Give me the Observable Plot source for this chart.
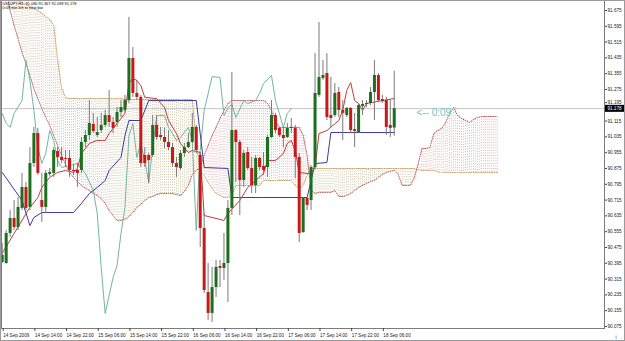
<!DOCTYPE html>
<html><head><meta charset="utf-8">
<script src="https://cdn.jsdelivr.net/npm/d3@7"></script>
<script src="https://cdn.jsdelivr.net/npm/@observablehq/plot@0.6"></script>
<style>
html,body{margin:0;padding:0;background:#fff;}
#chart svg{display:block;font-family:"Liberation Sans",Arial,sans-serif;}
</style></head><body><div id="chart"></div>
<script>
// ---- title / annotations ----
const titleLines = ["USDJPY,H1  91.080 91.367 91.039 91.178", "0:09 min left to next bar"];
const timerLabel = "<-- 0:09";
// ---- time axis labels (every 8 bars) ----
const timeTickBars = [0, 8, 16, 24, 32, 40, 48, 56, 64, 72, 80, 88, 96];
const timeTickLabels = ["14 Sep 2009", "14 Sep 14:00", "14 Sep 22:00", "15 Sep 06:00", "15 Sep 14:00", "15 Sep 22:00",
  "16 Sep 06:00", "16 Sep 14:00", "16 Sep 22:00", "17 Sep 06:00", "17 Sep 14:00", "17 Sep 22:00", "18 Sep 06:00"];
// ---- price axis labels ----
const priceTicks = [91.675, 91.595, 91.515, 91.435, 91.355, 91.275, 91.195, 91.115, 91.035, 90.955, 90.875,
  90.795, 90.715, 90.635, 90.555, 90.475, 90.395, 90.315, 90.235, 90.155, 90.075];

// ---- H1 candles (bar 0 = 14 Sep 06:00) ----
const open = [90.400,90.394,90.546,90.622,90.576,90.673,90.779,90.678,90.900,91.052,
90.713,90.678,90.845,90.850,90.961,90.931,90.926,90.926,90.865,90.865,
90.865,91.007,91.042,91.098,91.042,91.067,91.093,91.143,91.108,91.108,
91.159,91.169,91.219,91.432,91.255,91.235,90.941,90.941,90.941,91.093,
91.042,91.032,91.007,90.981,90.900,90.875,90.951,90.981,91.007,91.083,
90.941,90.571,90.247,90.141,90.272,90.379,90.369,90.394,90.673,91.067,
91.007,90.814,90.956,90.875,90.789,90.926,90.885,90.880,91.032,91.143,
91.078,91.042,91.032,91.078,91.078,90.931,90.551,90.723,90.713,90.880,
91.245,91.331,91.356,91.143,91.143,91.260,91.169,91.143,91.179,91.072,
91.057,91.189,91.199,91.204,91.260,91.346,91.224,91.219,91.093,91.080];
const high = [90.495,90.561,90.662,90.713,90.728,90.850,90.804,90.981,91.083,91.078,
90.850,90.865,90.875,90.981,90.981,90.981,90.966,90.966,90.890,90.900,
91.032,91.067,91.219,91.154,91.133,91.154,91.169,91.270,91.133,91.184,
91.219,91.245,91.640,91.488,91.321,91.245,90.981,90.951,91.143,91.143,
91.083,91.078,91.067,91.002,90.931,90.966,91.002,91.052,91.154,91.093,
90.956,90.647,90.394,90.374,90.409,90.409,90.546,90.713,91.361,91.072,
91.017,90.966,90.981,90.931,90.941,90.931,90.956,91.042,91.219,91.154,
91.083,91.083,91.103,91.128,91.093,90.951,90.728,90.728,90.890,91.457,
91.614,91.422,91.457,91.336,91.305,91.285,91.219,91.184,91.184,91.154,
91.204,91.219,91.219,91.285,91.422,91.356,91.245,91.235,91.219,91.367];
const low = [90.394,90.390,90.526,90.561,90.561,90.662,90.662,90.662,90.880,90.840,
90.602,90.647,90.835,90.830,90.880,90.900,90.880,90.830,90.840,90.779,
90.850,90.981,91.017,91.052,91.032,91.052,91.083,91.083,91.052,91.083,
91.133,91.159,91.204,91.235,91.219,90.880,90.880,90.799,90.931,91.017,
91.017,90.976,90.966,90.880,90.830,90.865,90.931,90.976,91.002,90.951,
90.475,90.242,90.105,90.095,90.222,90.272,90.308,90.197,90.637,90.804,
90.637,90.779,90.865,90.748,90.748,90.865,90.840,90.830,91.027,91.052,
91.032,90.981,91.027,91.052,90.824,90.500,90.546,90.662,90.662,90.875,
91.235,91.321,91.118,91.083,91.133,91.133,91.017,91.133,91.052,90.981,
91.052,91.143,91.184,91.194,91.118,91.209,91.204,91.042,91.032,91.039];
const close = [90.435,90.546,90.622,90.576,90.678,90.779,90.673,90.900,91.052,90.850,
90.678,90.850,90.855,90.966,90.931,90.915,90.921,90.865,90.860,90.850,
91.007,91.042,91.103,91.062,91.057,91.093,91.143,91.108,91.078,91.159,
91.184,91.219,91.432,91.255,91.235,90.900,90.900,90.915,91.093,91.032,
91.032,91.007,90.981,90.900,90.880,90.951,90.981,91.007,91.083,90.966,
90.571,90.257,90.141,90.272,90.374,90.369,90.394,90.673,91.067,91.007,
90.814,90.951,90.875,90.789,90.926,90.880,90.865,91.032,91.143,91.067,
91.042,91.027,91.078,91.083,90.931,90.546,90.723,90.688,90.880,91.255,
91.336,91.346,91.133,91.128,91.255,91.169,91.154,91.179,91.067,91.062,
91.194,91.199,91.204,91.260,91.346,91.219,91.214,91.083,91.078,91.178];

// ---- Tenkan-sen (bar, value) ----
const tenkanBar = [0,3,5,6,7,9,10,12,14,16,18,19,20,22,24,26,27,29,30,31,32,33,34,35,36,39,41,42,44,45,47,48,50,51,56,57,60,62,64,66,67,69,71,72,73,74,75,77,78,79,80,82,85,86,87,88,89,90,91,92,96,99];
const tenkanVal = [90.445,90.546,90.612,90.647,90.678,90.728,90.779,90.830,90.855,90.865,90.855,90.875,90.951,91.002,91.017,91.017,91.052,91.103,91.128,91.154,91.305,91.331,91.321,91.295,91.235,91.229,91.184,91.118,91.052,91.002,90.956,90.966,90.956,90.637,90.612,90.647,90.713,90.779,90.814,90.850,90.915,90.915,90.951,91.002,91.017,90.966,90.855,90.850,90.850,90.880,91.052,91.067,91.118,91.169,91.270,91.310,91.219,91.204,91.169,91.204,91.219,91.229];
// ---- Kijun-sen ----
const kijunBar = [0,5,7,8,10,18,20,22,24,26,27,30,31,32,35,37,49,50,51,57,58,77,79,82,83,99];
const kijunVal = [90.855,90.713,90.586,90.627,90.652,90.652,90.698,90.748,90.779,90.814,90.865,90.931,91.042,91.118,91.118,91.219,91.219,91.052,90.880,90.875,90.728,90.728,90.900,90.905,91.057,91.057];
// ---- Chikou span (drawn 26 bars back) ----
const chikouBar = [0,1,2,3,5,6,7,8,9,10,11,12,13,14,15,17,19,21,23,24,25,26,28,29,30,31,32,33,34,35,36,37,38,39,41,42,43,44,45,47,48,49,50,51,53,55,56,57,58,59,61,62,64,65,66,68,69,70,71,72,73];
const chikouVal = [91.154,91.103,91.083,91.154,91.219,91.422,91.321,91.169,90.981,90.900,90.951,91.067,91.017,90.915,90.880,90.890,90.900,90.850,90.764,90.647,90.374,90.141,90.323,90.384,90.546,90.678,91.040,91.103,90.931,91.002,90.915,90.804,90.981,91.143,91.143,91.083,91.052,91.017,91.032,91.083,91.017,90.561,90.966,91.169,91.340,91.336,91.143,91.180,91.200,91.133,91.219,91.204,91.219,91.255,91.305,91.346,91.219,91.154,91.083,91.154,91.178];
// ---- Senkou span A (bars 0..125, shifted 26 ahead) ----
const spanA = [91.877,91.776,91.675,91.599,91.533,91.462,91.407,91.346,91.280,91.229,
91.179,91.133,91.093,91.042,90.991,90.941,90.895,90.855,90.830,90.809,
90.789,90.774,90.764,90.748,90.738,90.723,90.698,90.662,90.637,90.612,
90.612,90.617,90.632,90.652,90.678,90.693,90.713,90.728,90.733,90.743,
90.748,90.748,90.748,90.748,90.743,90.738,90.759,90.789,90.845,90.865,
90.880,90.941,90.991,91.042,91.083,91.128,91.169,91.204,91.219,91.219,
91.219,91.219,91.219,91.219,91.219,91.219,91.219,91.204,91.169,91.118,
91.083,91.083,91.083,91.083,91.083,91.083,91.042,90.941,90.764,90.748,
90.754,90.754,90.754,90.754,90.764,90.733,90.733,90.738,90.748,90.764,
90.779,90.789,90.799,90.809,90.814,90.830,90.845,90.855,90.860,90.865,
90.845,90.789,90.789,90.789,90.824,90.895,90.976,90.976,90.981,91.052,
91.067,91.078,91.108,91.154,91.184,91.143,91.128,91.118,91.108,91.123,
91.133,91.138,91.138,91.138,91.138,91.138];
// ---- Senkou span B ----
const spanB = [91.827,91.802,91.776,91.751,91.726,91.715,91.705,91.695,91.685,91.675,
91.660,91.645,91.629,91.599,91.422,91.280,91.235,91.229,91.229,91.229,
91.229,91.229,91.229,91.229,91.229,91.229,91.229,91.229,91.229,91.229,
91.229,91.224,91.224,91.224,91.224,91.224,91.224,91.224,91.224,91.224,
91.224,91.224,91.224,91.224,91.224,91.224,91.224,91.224,91.224,91.000,
90.860,90.840,90.804,90.774,90.748,90.738,90.728,90.728,90.738,90.789,
90.789,90.789,90.789,90.789,90.789,90.789,90.814,90.814,90.814,90.814,
90.814,90.814,90.814,90.814,90.789,90.774,90.789,90.840,90.875,90.875,
90.875,90.875,90.875,90.875,90.875,90.875,90.875,90.875,90.875,90.875,
90.875,90.875,90.875,90.875,90.875,90.875,90.875,90.875,90.875,90.875,
90.875,90.875,90.875,90.875,90.875,90.870,90.865,90.865,90.865,90.865,
90.858,90.855,90.855,90.855,90.855,90.855,90.855,90.855,90.855,90.855,
90.855,90.855,90.855,90.855,90.855,90.855];

// ---- build tables ----
const bars = open.map((o, i) => ({i, o, h: high[i], l: low[i], c: close[i]}));
const cloud = spanA.map((a, i) => ({i, a, b: spanB[i]}));
const tenkan = tenkanBar.map((i, k) => ({i, v: tenkanVal[k]}));
const kijun = kijunBar.map((i, k) => ({i, v: kijunVal[k]}));
const chikou = chikouBar.map((i, k) => ({i, v: chikouVal[k]}));
const last = bars[bars.length - 1];
const boxedTick = 91.195;

const colUp = "#1d6e1d", colDn = "#c81818", colWick = "#7a7a7a";
const colTenkan = "#c03c3c", colKijun = "#3b3b9c", colChikou = "#72b5a3";
const colA = "#b86464", colB = "#c9a46a";
const hatchUp = "#dc9a9a", hatchDown = "#bcb28a";
const hatchStroke = d => d.a > d.b ? hatchUp : hatchDown;

const axisFont = 4.6;
const chart = Plot.plot({
  width: 625, height: 341,
  marginLeft: 1, marginRight: 21, marginTop: 0, marginBottom: 13,
  style: {fontFamily: "'Liberation Sans', Arial, sans-serif", background: "#fff"},
  x: {domain: [-0.18, 152.1], axis: null},
  y: {domain: [90.0648, 91.7256], axis: null},
  marks: [
    Plot.ruleX(cloud, {x: "i", y1: "a", y2: "b", stroke: hatchStroke, strokeDasharray: "1,1.6", strokeWidth: 1, strokeOpacity: 0.85, clip: true}),
    Plot.ruleX(cloud.slice(0, -1), {x: d => d.i + 0.5, y1: "a", y2: "b", stroke: hatchStroke, strokeDasharray: "1,1.6", strokeWidth: 1, strokeOpacity: 0.7, clip: true}),
    Plot.line(cloud, {x: "i", y: "b", stroke: colB, strokeDasharray: "1,1.3", strokeWidth: 1, clip: true}),
    Plot.line(cloud, {x: "i", y: "a", stroke: colA, strokeDasharray: "1,1.3", strokeWidth: 1, clip: true}),
    Plot.ruleY([last.c], {stroke: "#c4c4c4", strokeWidth: 1}),
    Plot.line(chikou, {x: "i", y: "v", stroke: colChikou, strokeWidth: 1, clip: true}),
    Plot.line(kijun, {x: "i", y: "v", stroke: colKijun, strokeWidth: 1, clip: true}),
    Plot.line(tenkan, {x: "i", y: "v", stroke: colTenkan, strokeWidth: 1, clip: true}),
    Plot.ruleX(bars, {x: "i", y1: "l", y2: "h", stroke: colWick, strokeWidth: 1, clip: true}),
    Plot.ruleX(bars, {x: "i", y1: "o", y2: "c", stroke: d => d.c >= d.o ? colUp : colDn, strokeWidth: 3, clip: true}),
    Plot.text([timerLabel], {x: () => last.i + 5.6, y: () => last.c, text: d => d, textAnchor: "start", dy: 4.5, fill: "#6cc6c6", fontSize: 10}),
    Plot.text([titleLines.join("\n")], {frameAnchor: "top-left", text: d => d, dx: 1, dy: 1, lineAnchor: "top", fontSize: 3.9, lineHeight: 1.15, fill: "#000"}),
    Plot.frame({stroke: "#7c7c7c"}),
    Plot.axisY(priceTicks.filter(d => d !== boxedTick), {anchor: "right", tickFormat: d => d.toFixed(3), tickSize: 2, tickPadding: 1, fontSize: axisFont, stroke: "#444", fill: "#222"}),
    Plot.axisY([boxedTick], {anchor: "right", tickFormat: d => d.toFixed(3), tickSize: 2, tickPadding: 1, fontSize: axisFont, stroke: "#444", fill: "#222", dy: -2.6}),
    Plot.axisX(timeTickBars, {anchor: "bottom", tickFormat: i => timeTickLabels[timeTickBars.indexOf(i)], tickSize: 3, tickPadding: 2, textAnchor: "start", dx: 1, fontSize: axisFont, stroke: "#444", fill: "#222"})
  ]
});

document.getElementById("chart").appendChild(chart);
const svg = d3.select(chart);
const yPix = chart.scale("y").apply(last.c);
svg.append("rect").attr("x", 605).attr("y", yPix - 3.3).attr("width", 19).attr("height", 7).attr("fill", "#000");
svg.append("text").attr("x", 614.5).attr("y", yPix + 1.6).attr("text-anchor", "middle").attr("fill", "#fff")
  .attr("font-size", axisFont).text(last.c.toFixed(3));
svg.append("rect").attr("x", 0.5).attr("y", 0.5).attr("width", 624).attr("height", 340)
  .attr("fill", "none").attr("stroke", "#9a9a9a");
</script></body></html>
